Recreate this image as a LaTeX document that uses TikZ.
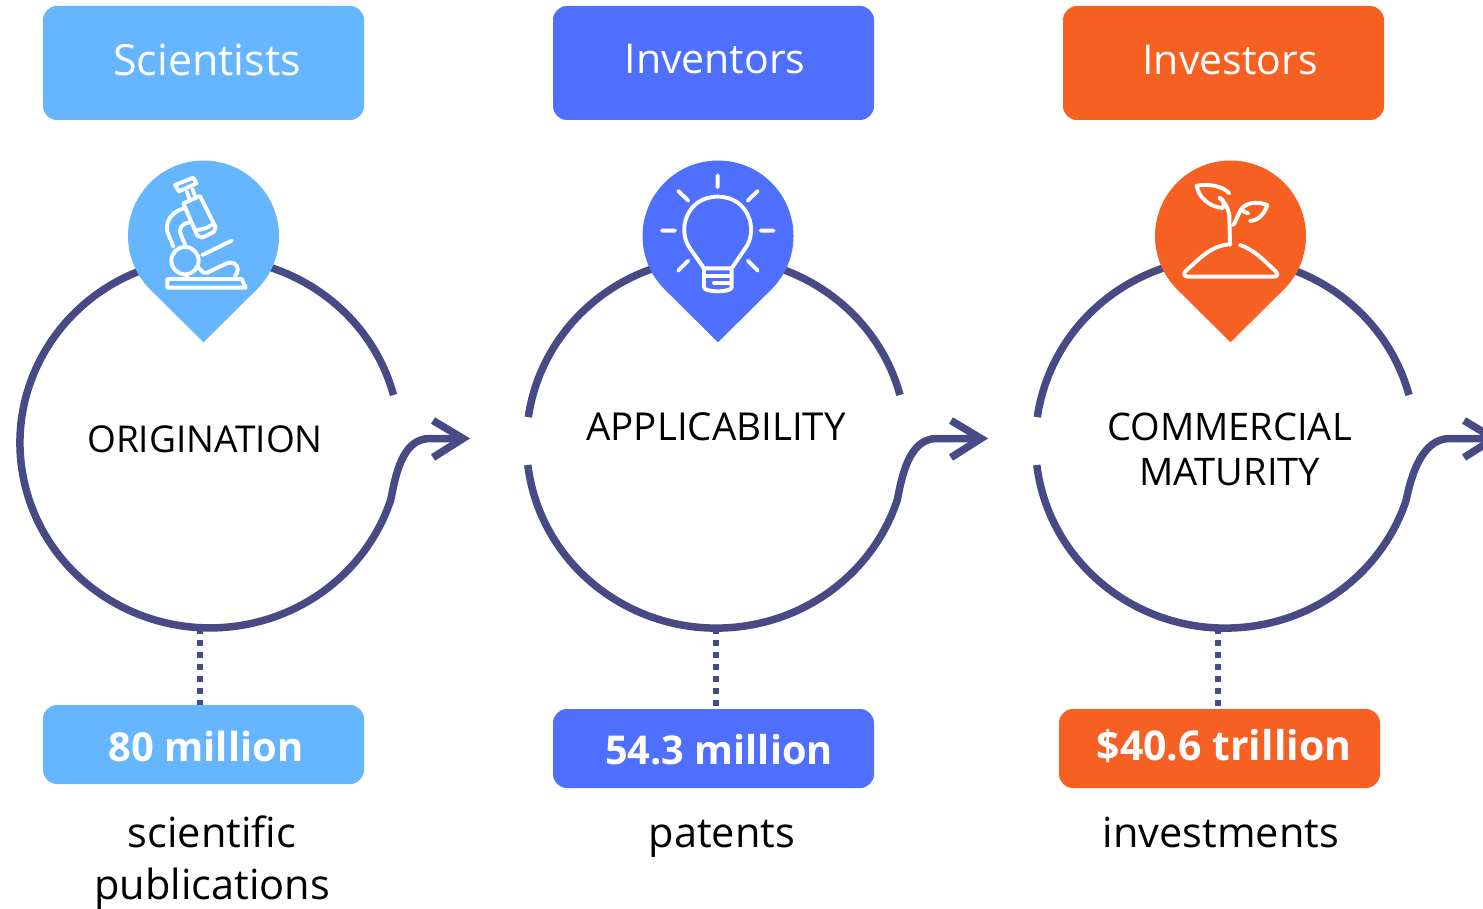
\documentclass[tikz,border=0pt]{standalone}
\usepackage{fontspec}
\usetikzlibrary{calc}
\setmainfont{Open Sans}
\definecolor{sky}{HTML}{66B5FF}
\definecolor{royal}{HTML}{4F6FFF}
\definecolor{flame}{HTML}{F76023}
\definecolor{ink}{HTML}{474A85}
\tikzset{
 ring/.style={draw=ink,line width=7.5pt},
 link/.style={draw=ink,line width=6.5pt,dash pattern=on 6pt off 6pt},
 glyph/.style={draw=white,line width=3.9pt,line cap=round,line join=round},
 box/.style={inner sep=0pt,outer sep=0pt,minimum width=321pt,fill=#1,rounded corners=14pt},
 headtxt/.style={text=white,font=\fontsize{#1}{#1}\selectfont,inner sep=0pt},
 stattxt/.style={text=white,font=\fontsize{#1}{#1}\selectfont\bfseries,inner sep=0pt},
 ctr/.style={text=black,font=\fontsize{#1}{45}\selectfont,align=center,inner sep=0pt},
 low/.style={text=black,font=\fontsize{41.5}{52}\selectfont,align=center,inner sep=0pt},
 pinshape/.pic={
   \fill[fill=#1] (-53.4,53.4) -- (0,106.3) -- (53.4,53.4) arc[start angle=45,end angle=-225,radius=75.5] -- cycle;
 },
}
\begin{document}
\begin{tikzpicture}[x=1pt,y=-1pt]
\useasboundingbox (0,0) rectangle (1483,909);
\clip (0,0) rectangle (1483,909);
% header boxes
\node[box=sky,minimum height=114pt] (h1) at (203.5,63) {};
\node[box=royal,minimum height=114pt] (h2) at (713.5,63) {};
\node[box=flame,minimum height=114pt] (h3) at (1223.5,63) {};
\node[headtxt=43] (t1) at (207,60) {Scientists};
\node[headtxt=41] (t2) at (715,59) {Inventors};
\node[headtxt=41] (t3) at (1230,60) {Investors};
% stat boxes
\node[box=sky,minimum height=79pt] (s1) at (203.5,744.5) {};
\node[box=royal,minimum height=79pt] (s2) at (713.5,748.5) {};
\node[box=flame,minimum height=79pt] (s3) at (1219.5,748.5) {};
% dotted links
\coordinate (l1a) at (200,628); \coordinate (l2a) at (716,628); \coordinate (l3a) at (1218,628);
\draw[link] (l1a) -- (s1.north -| l1a);
\draw[link] (l2a) -- (s2.north -| l2a);
\draw[link] (l3a) -- (s3.north -| l3a);
% rings and arrows
\coordinate (r1) at (393.5,395);
\coordinate (r2) at (900,395);
\coordinate (r2b) at (527.8,465);
\coordinate (r3) at (1409,395);
\coordinate (r3b) at (1036.8,465);
\coordinate (a1) at (463,438.5);
\coordinate (a2) at (981,438.5);
\coordinate (a3) at (1494,438.5);
\draw[ring] (r1) arc[start angle=-15,end angle=-342,x radius=190,y radius=185]
  .. controls +(5,-25) and +(-28,0) .. (430,438.5) -- (a1);
\draw[ring] (r2) arc[start angle=-15,end angle=-172,x radius=190,y radius=185];
\draw[ring] (r2b) arc[start angle=-186.8,end angle=-342,x radius=190,y radius=185]
  .. controls +(5,-25) and +(-28,0) .. (937,438.5) -- (a2);
\draw[ring] (r3) arc[start angle=-15,end angle=-172,x radius=190,y radius=185];
\draw[ring] (r3b) arc[start angle=-186.8,end angle=-342,x radius=190,y radius=185]
  .. controls +(5,-25) and +(-28,0) .. (1450,438.5) -- (a3);
\draw[ring,miter limit=4] ($(a1)+(-30,-18)$) -- (a1) -- ($(a1)+(-30,19)$);
\draw[ring,miter limit=4] ($(a2)+(-30,-18)$) -- (a2) -- ($(a2)+(-30,19)$);
\draw[ring,miter limit=4] ($(a3)+(-30,-18)$) -- (a3) -- ($(a3)+(-30,19)$);
% pins
\pic at (203.5,236) {pinshape=sky};
\pic at (718,236) {pinshape=royal};
\pic at (1230.5,236) {pinshape=flame};
% microscope
\begin{scope}[shift={(110,150)},x=0.3333pt,y=-0.3333pt]
\draw[glyph] (195,105) -- (250,83) -- (260,100) -- (207,124) -- cycle;
\draw[glyph] (230,125) -- (238,145) (247,117) -- (254,135);
\draw[glyph] (220,160) -- (270,138) -- (317,232) -- (312,245) -- (277,263) -- (262,257) -- cycle;
\draw[glyph] (255,240) .. controls (275,240) and (290,235) .. (305,225);
\draw[glyph] (222,175) .. controls (185,185) and (165,215) .. (172,245) -- (190,290);
\draw[glyph] (237,218) .. controls (212,220) and (205,240) .. (213,255) -- (228,290);
\draw[glyph] (225,332) circle[radius=41];
\draw[glyph] (277,315) -- (365,272);
\draw[glyph] (265,352) -- (280,368) -- (292,368) -- (350,340) .. controls (375,330) and (395,355) .. (375,378);
\draw[glyph] (232,375) -- (232,386);
\draw[glyph] (172,387) -- (395,387) -- (407,413) -- (172,413) -- cycle;
\end{scope}
% bulb
\begin{scope}[shift={(630,150)},x=0.3333pt,y=-0.3333pt]
\draw[glyph] (263,76) -- (263,112) (145,123) -- (175,152) (383,123) -- (353,152)
 (96,242) -- (135,242) (392,242) -- (431,242) (145,362) -- (175,332) (383,362) -- (353,332);
\draw[glyph] (222,355) -- (180,295) .. controls (140,240) and (170,140) .. (263,140)
  .. controls (356,140) and (386,240) .. (346,295) -- (305,355);
\draw[glyph] (222,355) -- (305,355) -- (305,412) .. controls (305,428) and (222,428) .. (222,412) -- cycle;
\draw[glyph] (222,378) -- (300,378) (252,398) -- (300,398);
\end{scope}
% sprout
\begin{scope}[shift={(1140,150)},x=0.3333pt,y=-0.3333pt]
\draw[glyph] (272,283) .. controls (215,285) and (180,325) .. (138,362) .. controls (128,372) and (132,380) .. (145,380)
  -- (400,380) .. controls (415,380) and (415,372) .. (405,362) .. controls (375,335) and (345,300) .. (300,285);
\draw[glyph] (270,280) -- (268,195) .. controls (262,170) and (255,155) .. (238,143);
\draw[glyph] (268,130) .. controls (250,110) and (210,100) .. (170,107) .. controls (175,140) and (205,170) .. (248,174)
  .. controls (255,160) and (250,150) .. (238,143);
\draw[glyph] (280,225) .. controls (290,210) and (295,190) .. (305,175) .. controls (325,155) and (355,155) .. (382,165)
  .. controls (375,190) and (355,212) .. (330,213);
\draw[glyph] (305,175) .. controls (310,185) and (315,190) .. (325,190);
\end{scope}
% texts
\node[ctr=37] (c1) at (205,439) {ORIGINATION};
\node[ctr=38.5] (c2) at (716,427) {APPLICABILITY};
\node[ctr=38] (c3) at (1229.5,449) {COMMERCIAL\\MATURITY};
\node[stattxt=40] (n1) at (206,746) {80 million};
\node[stattxt=39.7] (n2) at (719,750) {54.3 million};
\node[stattxt=41] (n3) at (1224,746) {\$40.6 trillion};
\node[low,anchor=base] (d1) at (212,847) {scientific};
\node[low,anchor=base] (d1b) at (212,899) {publications};
\node[low,anchor=base] (d2) at (722,847) {patents};
\node[low,anchor=base] (d3) at (1221,847) {investments};
\end{tikzpicture}
\end{document}
